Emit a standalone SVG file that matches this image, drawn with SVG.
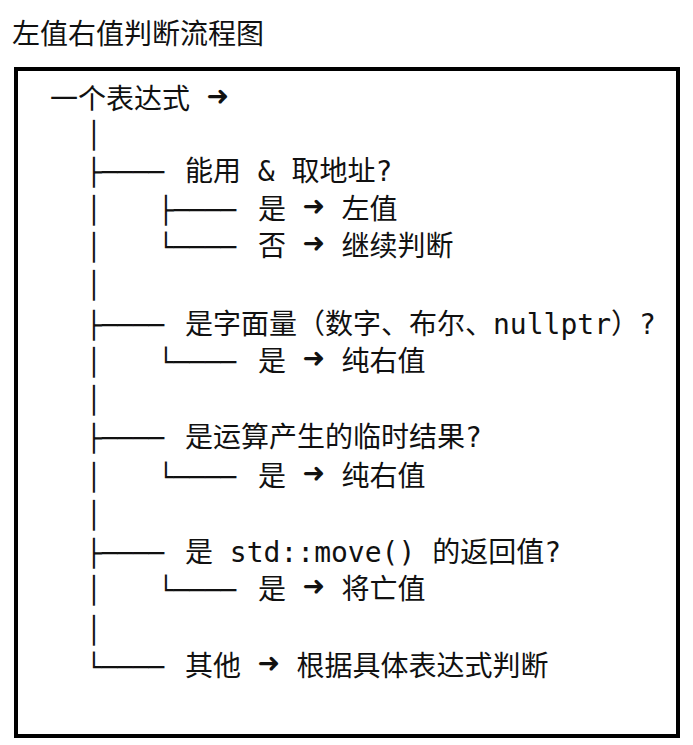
<svg xmlns="http://www.w3.org/2000/svg" width="693" height="745" viewBox="0 0 693 745">
<style>
text{font-family:"DejaVu Sans Mono","Noto Sans CJK SC",monospace;font-size:28px;fill:#111}
.t{font-family:"Noto Sans CJK SC",sans-serif;font-size:28px}
.tr{fill:#222}
.tr text{font-size:26px}
.ar{font-weight:bold;font-size:36px}
</style>
<rect width="693" height="745" fill="#fff"/>
<text class="t" x="12" y="44">左值右值判断流程图</text>
<rect x="16" y="69" width="662" height="667" fill="none" stroke="#000" stroke-width="4"/>
<g id="connectors" class="tr">
<text x="86" y="144">│</text>
<text x="86" y="181">├────</text>
<text x="86" y="219">│</text><text x="158" y="219">├────</text>
<text x="86" y="256">│</text><text x="158" y="256">└────</text>
<text x="86" y="294">│</text>
<text x="86" y="334">├────</text>
<text x="86" y="371">│</text><text x="158" y="371">└────</text>
<text x="86" y="409">│</text>
<text x="86" y="447">├────</text>
<text x="86" y="486">│</text><text x="158" y="486">└────</text>
<text x="86" y="524">│</text>
<text x="86" y="562">├────</text>
<text x="86" y="599">│</text><text x="158" y="599">└────</text>
<text x="86" y="639">│</text>
<text x="86" y="676">└────</text>
</g>
<g id="root"><text x="50" y="109">一个表达式 <tspan class="ar">➜</tspan></text></g>
<g id="q1"><text x="185" y="181">能用 &amp; 取地址?</text></g>
<g id="a1"><text x="258" y="219">是 <tspan class="ar">➜</tspan> 左值</text></g>
<g id="b1"><text x="258" y="256">否 <tspan class="ar">➜</tspan> 继续判断</text></g>
<g id="q2"><text x="185" y="334">是字面量（数字、布尔、nullptr）?</text></g>
<g id="a2"><text x="258" y="371">是 <tspan class="ar">➜</tspan> 纯右值</text></g>
<g id="q3"><text x="185" y="447">是运算产生的临时结果?</text></g>
<g id="a3"><text x="258" y="486">是 <tspan class="ar">➜</tspan> 纯右值</text></g>
<g id="q4"><text x="185" y="562">是 std::move() 的返回值?</text></g>
<g id="a4"><text x="258" y="599">是 <tspan class="ar">➜</tspan> 将亡值</text></g>
<g id="q5"><text x="185" y="676">其他 <tspan class="ar">➜</tspan> 根据具体表达式判断</text></g>
</svg>
